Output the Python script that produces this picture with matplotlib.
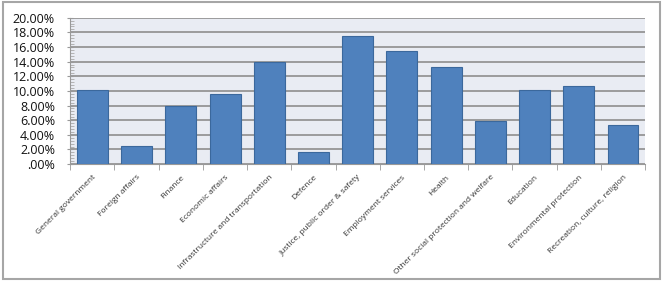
import matplotlib.pyplot as plt
from matplotlib.ticker import FuncFormatter, MultipleLocator
from matplotlib.patches import Rectangle

categories = [
    "General government", "Foreign affairs", "Finance", "Economic affairs",
    "Infrastructure and transportation", "Defence",
    "Justice, public order & safety", "Employment services", "Health",
    "Other social protection and welfare", "Education",
    "Environmental protection", "Recreation, culture, religion",
]
shares = [10.1, 2.5, 7.9, 9.6, 13.9, 1.7, 17.5, 15.5, 13.3, 5.9, 10.1, 10.7, 5.4]

plt.rcParams["font.family"] = ["Open Sans", "DejaVu Sans"]

fig = plt.figure(figsize=(6.63, 2.81), dpi=100)
fig.patch.set_facecolor("white")
fig.patches.append(Rectangle((0.004, 0.006), 0.992, 0.988, transform=fig.transFigure,
                             fill=False, edgecolor="#a6a6a6", linewidth=1.5))

ax = fig.add_axes([0.106, 0.416, 0.867, 0.521])
ax.set_facecolor("#e9ecf3")
x = range(len(categories))
ax.bar(x, shares, width=0.7, color="#4f81bd", edgecolor="#3b689c", linewidth=0.8, zorder=3)

ax.set_ylim(0, 20)
ax.set_xlim(-0.5, len(categories) - 0.5)
ax.yaxis.set_major_locator(MultipleLocator(2))
ax.yaxis.set_minor_locator(MultipleLocator(0.4))
ax.yaxis.set_major_formatter(FuncFormatter(lambda v, p: ".00%" if v == 0 else f"{v:.2f}%"))
ax.grid(axis="y", color="#959595", linewidth=1.3, zorder=1)

ax.tick_params(axis="y", which="major", direction="inout", length=5, color="#999999",
               labelsize=9, pad=8.5, labelcolor="#111111")
ax.tick_params(axis="y", which="minor", direction="in", length=3, color="#aaaaaa")
ax.set_xticks([i + 0.5 for i in range(-1, len(categories))], minor=True)
ax.tick_params(axis="x", which="minor", direction="out", length=4, color="#999999")
ax.set_xticks(list(x))
ax.set_xticklabels(categories, rotation=45, ha="right", va="top", rotation_mode="anchor",
                   fontsize=6, color="#333333")
ax.tick_params(axis="x", which="major", length=0, pad=7)

for s in ["top", "right"]:
    ax.spines[s].set_visible(False)
ax.spines["left"].set_color("#999999")
ax.spines["bottom"].set_color("#999999")

fig.savefig("out.png", dpi=100, facecolor="white")
